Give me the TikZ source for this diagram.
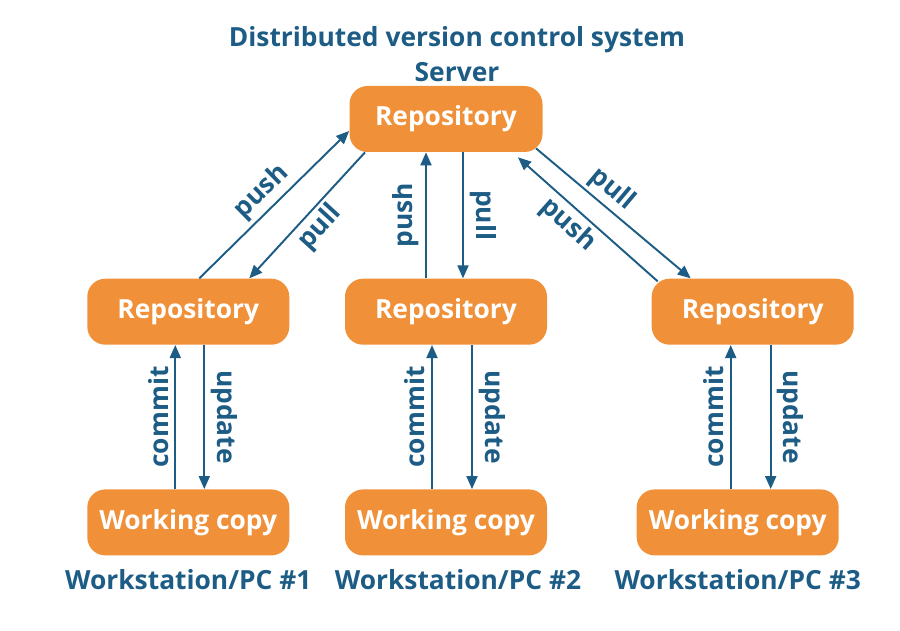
\documentclass[tikz,border=0pt]{standalone}
\usepackage{fontspec}
\setmainfont{Open Sans}
\usepackage{tikz}
\usetikzlibrary{arrows.meta,positioning}
\definecolor{vcsorange}{HTML}{F0913A}
\definecolor{vcsblue}{HTML}{1D5C85}
\tikzstyle{repo} = [rectangle, rounded corners=0.36cm, fill=vcsorange, text=white,
    minimum width=4.04cm, minimum height=1.32cm, font=\bfseries\fontsize{15}{18}\selectfont]
\tikzstyle{arrow} = [-{Triangle[length=0.26cm,width=0.22cm]}, line width=1.1pt, vcsblue]
\tikzstyle{lbl} = [text=vcsblue, font=\bfseries\fontsize{15}{18}\selectfont]

\begin{document}
\begin{tikzpicture}[node distance=1cm]
\useasboundingbox (0,0) rectangle (18,-12.62);
\node[lbl] (title) at (9.14,-0.8) {Distributed version control system};
\node[repo, minimum width=3.86cm] (server) at (8.92,-2.38) {Repository};
\node[lbl, above=-0.04cm of server, xshift=0.22cm] (servername) {Server};
\node[repo, below=2.52cm of server] (repo2) {Repository};
\node[repo, left=1.1cm of repo2] (repo1) {Repository};
\node[repo, right=2.08cm of repo2] (repo3) {Repository};
\node[repo, below=2.88cm of repo1] (wc1) {Working copy};
\node[repo, below=2.88cm of repo2] (wc2) {Working copy};
\node[repo, below=2.88cm of repo3, xshift=-0.3cm] (wc3) {Working copy};
\node[lbl, below=0.16cm of wc1] (pc1) {Workstation/PC \#1};
\node[lbl, below=0.16cm of wc2, xshift=0.24cm] (pc2) {Workstation/PC \#2};
\node[lbl, below=0.16cm of wc3] (pc3) {Workstation/PC \#3};
% server <-> repositories
\draw[arrow] ([xshift=0.22cm]repo1.north) -- ([yshift=-0.24cm]server.west)
    node[lbl, midway, sloped, above, inner sep=2pt] {push};
\draw[arrow] ([xshift=-1.62cm]server.south) -- ([xshift=1.22cm]repo1.north)
    node[lbl, midway, sloped, below, inner sep=2pt] {pull};
\draw[arrow] ([xshift=-0.4cm]repo2.north) -- ([xshift=-0.4cm]repo2.north |- server.south)
    node[lbl, midway, rotate=90, anchor=south] {push};
\draw[arrow] ([xshift=0.34cm]repo2.north |- server.south) -- ([xshift=0.34cm]repo2.north)
    node[lbl, midway, rotate=-90, anchor=south] {pull};
\draw[arrow] ([xshift=1.8cm,yshift=0.08cm]server.south) -- ([xshift=-1.24cm]repo3.north)
    node[lbl, pos=0.42, sloped, above, inner sep=2pt] {pull};
\draw[arrow] ([xshift=-1.9cm,yshift=-0.06cm]repo3.north) -- ([xshift=1.44cm,yshift=-0.1cm]server.south)
    node[lbl, pos=0.56, sloped, below, inner sep=2pt] {push};
% working copies <-> repositories
\draw[arrow] ([xshift=-0.26cm]wc1.north) -- ([xshift=-0.26cm]wc1.north |- repo1.south)
    node[lbl, midway, rotate=90, anchor=south] {commit};
\draw[arrow] ([xshift=0.32cm]repo1.south) -- ([xshift=0.32cm]repo1.south |- wc1.north)
    node[lbl, midway, rotate=-90, anchor=south] {update};
\draw[arrow] ([xshift=-0.28cm]wc2.north) -- ([xshift=-0.28cm]wc2.north |- repo2.south)
    node[lbl, midway, rotate=90, anchor=south] {commit};
\draw[arrow] ([xshift=0.52cm]repo2.south) -- ([xshift=0.52cm]repo2.south |- wc2.north)
    node[lbl, midway, rotate=-90, anchor=south] {update};
\draw[arrow] ([xshift=-0.14cm]wc3.north) -- ([xshift=-0.14cm]wc3.north |- repo3.south)
    node[lbl, midway, rotate=90, anchor=south] {commit};
\draw[arrow] ([xshift=0.66cm]wc3.north |- repo3.south) -- ([xshift=0.66cm]wc3.north)
    node[lbl, midway, rotate=-90, anchor=south] {update};
\end{tikzpicture}
\end{document}
